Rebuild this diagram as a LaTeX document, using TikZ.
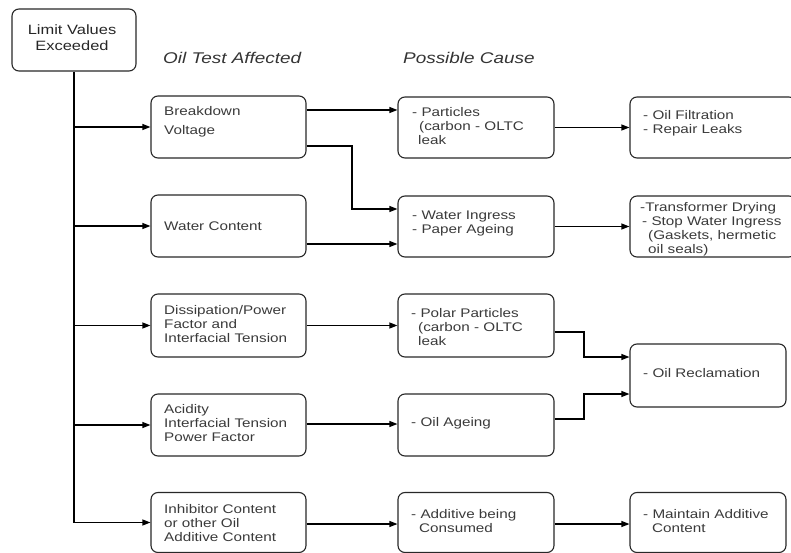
\documentclass[tikz,border=0pt]{standalone}
\usepackage{fontspec}
\setmainfont{Liberation Sans}[FakeStretch=1.22]
\usetikzlibrary{arrows.meta,positioning,calc}
\definecolor{txt}{RGB}{58,58,58}
\definecolor{brd}{RGB}{40,40,40}
\begin{document}
\begin{tikzpicture}[x=1bp,y=-1bp,
  box/.style={draw=brd,line width=1.1bp,rounded corners=7bp},
  lbl/.style={anchor=west,align=left,inner sep=0pt,text=txt,font=\fontsize{12.5bp}{14bp}\selectfont},
  hdr/.style={anchor=west,inner sep=0pt,text=txt!90!black,font=\fontsize{15.5bp}{17bp}\selectfont\itshape},
  arr/.style={line width=1.1bp,-{Triangle[length=8bp,width=6bp]}},
  ln/.style={line width=1.3bp}]
\useasboundingbox (0,0) rectangle (791,553);
\clip (0,0) rectangle (791,553);
% boxes
\node[box,minimum width=124bp,minimum height=62bp] (top) at (74,40) {};
\node[align=center,inner sep=0pt,text=black!85,font=\fontsize{13.5bp}{16bp}\selectfont] (toptxt) at (72,38) {Limit Values\\Exceeded};
\node[hdr] (h1) at (163,58) {Oil Test Affected};
\node[hdr] (h2) at (403,58) {Possible Cause};
% column 1
\node[box,minimum width=155bp,minimum height=62bp] (B) at (228.5,127) {};
\node[box,minimum width=155bp,minimum height=62bp] (W) at (228.5,226) {};
\node[box,minimum width=155bp,minimum height=63bp] (D) at (228.5,325.5) {};
\node[box,minimum width=155bp,minimum height=62bp] (A) at (228.5,425) {};
\node[box,minimum width=155bp,minimum height=60bp] (I) at (228.5,522.5) {};
\node[lbl,font=\fontsize{12.5bp}{19bp}\selectfont] (Bt) at (164,121.5) {Breakdown\\Voltage};
\node[lbl] (Wt) at (164,226) {Water Content};
\node[lbl] (Dt) at (164,324) {Dissipation/Power\\Factor and\\Interfacial Tension};
\node[lbl] (At) at (164,423) {Acidity\\Interfacial Tension\\Power Factor};
\node[lbl] (It) at (164,523) {Inhibitor Content\\or other Oil\\Additive Content};
% column 2
\node[box,minimum width=156bp,minimum height=61bp] (P) at (476,127.5) {};
\node[box,minimum width=156bp,minimum height=61bp] (WI) at (476,226.5) {};
\node[box,minimum width=156bp,minimum height=63bp] (PP) at (476,325.5) {};
\node[box,minimum width=156bp,minimum height=62bp] (OA) at (476,425) {};
\node[box,minimum width=156bp,minimum height=60bp] (AC) at (476,522.5) {};
\node[lbl] (Pt) at (412,126) {- Particles\\\hspace*{7bp}(carbon - OLTC\\\hspace*{6bp}leak};
\node[lbl] (WIt) at (412,223) {- Water Ingress\\- Paper Ageing};
\node[lbl] (PPt) at (411,327) {- Polar Particles\\\hspace*{7bp}(carbon - OLTC\\\hspace*{7bp}leak};
\node[lbl] (OAt) at (411,423) {- Oil Ageing};
\node[lbl] (ACt) at (411,521) {- Additive being\\\hspace*{8bp}Consumed};
% column 3
\node[box,minimum width=166bp,minimum height=61bp] (OF) at (713,127.5) {};
\node[box,minimum width=166bp,minimum height=61bp] (TD) at (713,226.5) {};
\node[box,minimum width=156bp,minimum height=63bp] (OR) at (708,375.5) {};
\node[box,minimum width=156bp,minimum height=60bp] (MA) at (708,522.5) {};
\node[lbl] (OFt) at (643,123) {- Oil Filtration\\- Repair Leaks};
\node[lbl] (TDt) at (640,229) {-Transformer Drying\\\hspace*{2bp}- Stop Water Ingress\\\hspace*{8bp}(Gaskets, hermetic\\\hspace*{8bp}oil seals)};
\node[lbl] (ORt) at (643,373) {- Oil Reclamation};
\node[lbl] (MAt) at (643,521) {- Maintain Additive\\\hspace*{9bp}Content};
% trunk and branches
\coordinate (tb) at (top.south);
\draw[arr] (tb) |- (I.west);
\draw[arr] (tb |- B.west) -- (B.west);
\draw[arr] (tb |- W.west) -- (W.west);
\draw[arr] (tb |- D.west) -- (D.west);
\draw[arr] (tb |- A.west) -- (A.west);
% column 1 -> 2
\draw[arr] (B.east |- 0,110) -- (P.west |- 0,110);
\draw[arr] (B.east |- 0,146) -- (352,146) |- (WI.west |- 0,209);
\draw[arr] (W.east |- 0,244) -- (WI.west |- 0,244);
\draw[arr] (D.west -| D.east) -- (PP.west);
\draw[arr] (A.east |- 0,424) -- (OA.west |- 0,424);
\draw[arr] (I.east |- 0,524) -- (AC.west |- 0,524);
% column 2 -> 3
\draw[arr] (P.east) -- (OF.west |- P.east);
\draw[arr] (WI.east) -- (TD.west |- WI.east);
\draw[arr] (PP.east |- 0,332) -- (584,332) |- (OR.west |- 0,357);
\draw[arr] (OA.east |- 0,419) -- (584,419) |- (OR.west |- 0,394);
\draw[arr] (AC.east |- 0,524) -- (MA.west |- 0,524);
\end{tikzpicture}
\end{document}
